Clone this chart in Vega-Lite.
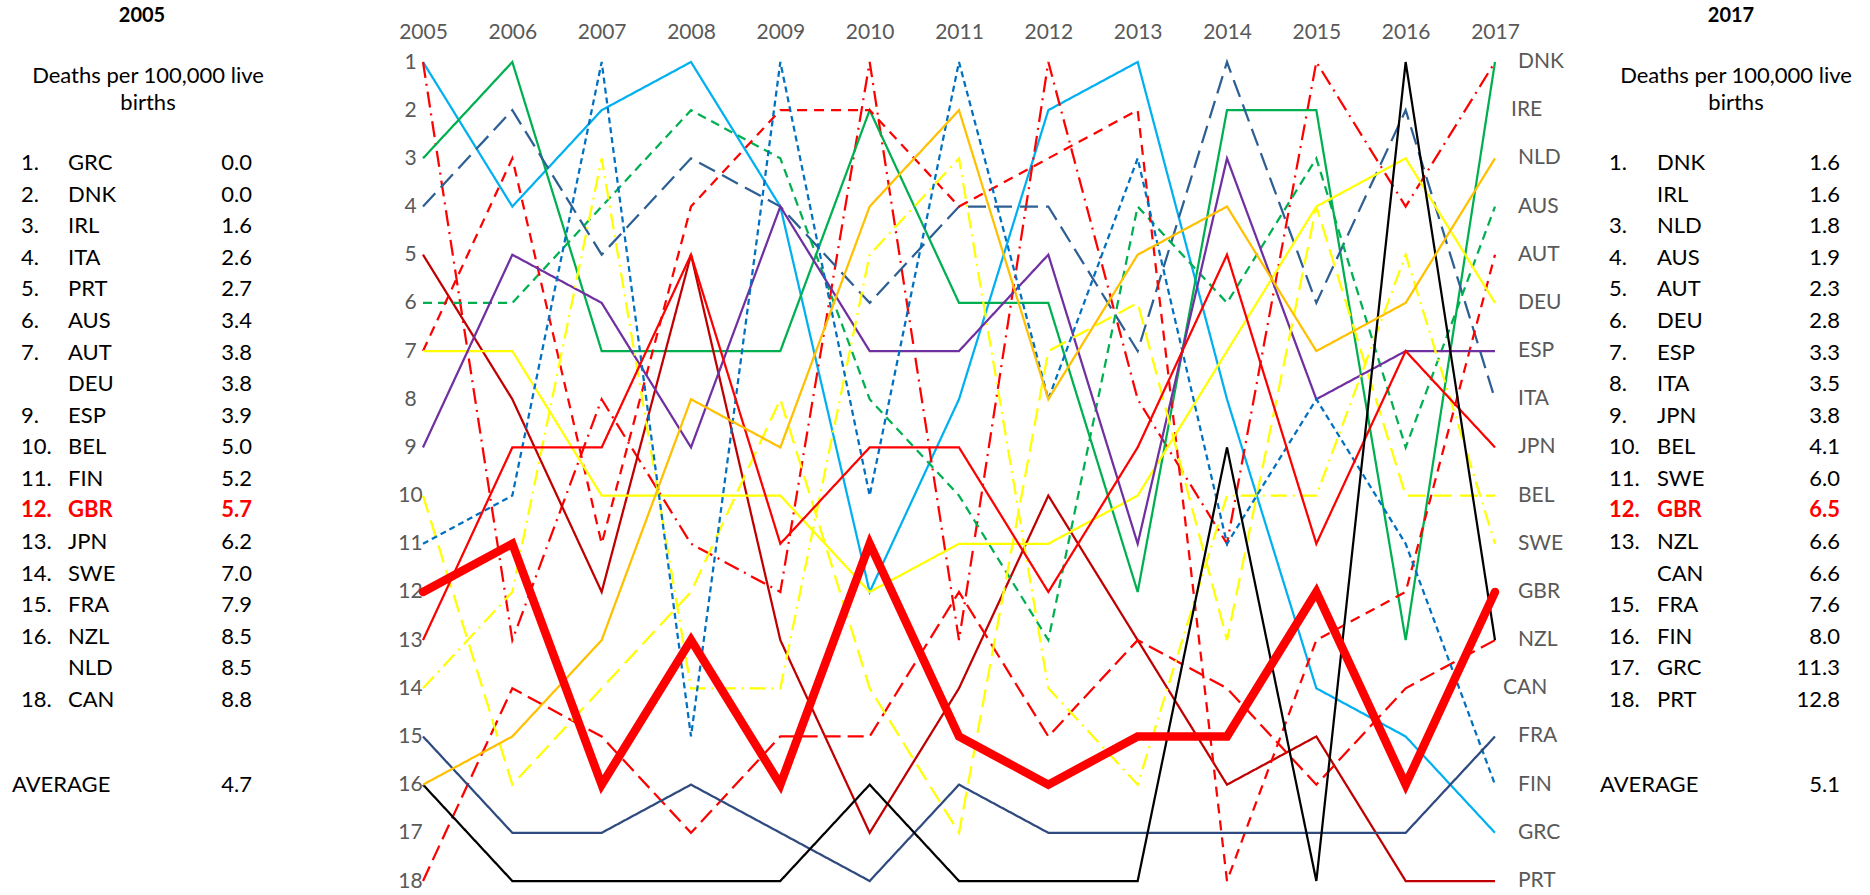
{
  "$schema": "https://vega.github.io/schema/vega-lite/v6.json",
  "width": 1072,
  "height": 819,
  "autosize": {"type": "none"},
  "padding": {"left": 423, "top": 62, "right": 375, "bottom": 14},
  "background": "white",
  "config": {"font": "Lato", "view": {"stroke": null}},
  "datasets": {
    "ranks": [
      {"country":"GBR","year":2005,"rank":12},{"country":"GBR","year":2006,"rank":11},{"country":"GBR","year":2007,"rank":16},{"country":"GBR","year":2008,"rank":13},{"country":"GBR","year":2009,"rank":16},{"country":"GBR","year":2010,"rank":11},{"country":"GBR","year":2011,"rank":15},{"country":"GBR","year":2012,"rank":16},{"country":"GBR","year":2013,"rank":15},{"country":"GBR","year":2014,"rank":15},{"country":"GBR","year":2015,"rank":12},{"country":"GBR","year":2016,"rank":16},{"country":"GBR","year":2017,"rank":12},
      {"country":"GRC","year":2005,"rank":1},{"country":"GRC","year":2006,"rank":4},{"country":"GRC","year":2007,"rank":2},{"country":"GRC","year":2008,"rank":1},{"country":"GRC","year":2009,"rank":4},{"country":"GRC","year":2010,"rank":12},{"country":"GRC","year":2011,"rank":8},{"country":"GRC","year":2012,"rank":2},{"country":"GRC","year":2013,"rank":1},{"country":"GRC","year":2014,"rank":8},{"country":"GRC","year":2015,"rank":14},{"country":"GRC","year":2016,"rank":15},{"country":"GRC","year":2017,"rank":17},
      {"country":"DNK","year":2005,"rank":1},{"country":"DNK","year":2006,"rank":13},{"country":"DNK","year":2007,"rank":8},{"country":"DNK","year":2008,"rank":11},{"country":"DNK","year":2009,"rank":12},{"country":"DNK","year":2010,"rank":1},{"country":"DNK","year":2011,"rank":13},{"country":"DNK","year":2012,"rank":1},{"country":"DNK","year":2013,"rank":8},{"country":"DNK","year":2014,"rank":11},{"country":"DNK","year":2015,"rank":1},{"country":"DNK","year":2016,"rank":4},{"country":"DNK","year":2017,"rank":1},
      {"country":"IRL","year":2005,"rank":3},{"country":"IRL","year":2006,"rank":1},{"country":"IRL","year":2007,"rank":7},{"country":"IRL","year":2008,"rank":7},{"country":"IRL","year":2009,"rank":7},{"country":"IRL","year":2010,"rank":2},{"country":"IRL","year":2011,"rank":6},{"country":"IRL","year":2012,"rank":6},{"country":"IRL","year":2013,"rank":12},{"country":"IRL","year":2014,"rank":2},{"country":"IRL","year":2015,"rank":2},{"country":"IRL","year":2016,"rank":13},{"country":"IRL","year":2017,"rank":1},
      {"country":"ITA","year":2005,"rank":4},{"country":"ITA","year":2006,"rank":2},{"country":"ITA","year":2007,"rank":5},{"country":"ITA","year":2008,"rank":3},{"country":"ITA","year":2009,"rank":4},{"country":"ITA","year":2010,"rank":6},{"country":"ITA","year":2011,"rank":4},{"country":"ITA","year":2012,"rank":4},{"country":"ITA","year":2013,"rank":7},{"country":"ITA","year":2014,"rank":1},{"country":"ITA","year":2015,"rank":6},{"country":"ITA","year":2016,"rank":2},{"country":"ITA","year":2017,"rank":8},
      {"country":"PRT","year":2005,"rank":5},{"country":"PRT","year":2006,"rank":8},{"country":"PRT","year":2007,"rank":12},{"country":"PRT","year":2008,"rank":5},{"country":"PRT","year":2009,"rank":13},{"country":"PRT","year":2010,"rank":17},{"country":"PRT","year":2011,"rank":14},{"country":"PRT","year":2012,"rank":10},{"country":"PRT","year":2013,"rank":13},{"country":"PRT","year":2014,"rank":16},{"country":"PRT","year":2015,"rank":15},{"country":"PRT","year":2016,"rank":18},{"country":"PRT","year":2017,"rank":18},
      {"country":"AUS","year":2005,"rank":6},{"country":"AUS","year":2006,"rank":6},{"country":"AUS","year":2007,"rank":4},{"country":"AUS","year":2008,"rank":2},{"country":"AUS","year":2009,"rank":3},{"country":"AUS","year":2010,"rank":8},{"country":"AUS","year":2011,"rank":10},{"country":"AUS","year":2012,"rank":13},{"country":"AUS","year":2013,"rank":4},{"country":"AUS","year":2014,"rank":6},{"country":"AUS","year":2015,"rank":3},{"country":"AUS","year":2016,"rank":9},{"country":"AUS","year":2017,"rank":4},
      {"country":"AUT","year":2005,"rank":7},{"country":"AUT","year":2006,"rank":3},{"country":"AUT","year":2007,"rank":11},{"country":"AUT","year":2008,"rank":4},{"country":"AUT","year":2009,"rank":2},{"country":"AUT","year":2010,"rank":2},{"country":"AUT","year":2011,"rank":4},{"country":"AUT","year":2012,"rank":3},{"country":"AUT","year":2013,"rank":2},{"country":"AUT","year":2014,"rank":18},{"country":"AUT","year":2015,"rank":13},{"country":"AUT","year":2016,"rank":12},{"country":"AUT","year":2017,"rank":5},
      {"country":"CAN","year":2005,"rank":18},{"country":"CAN","year":2006,"rank":14},{"country":"CAN","year":2007,"rank":15},{"country":"CAN","year":2008,"rank":17},{"country":"CAN","year":2009,"rank":15},{"country":"CAN","year":2010,"rank":15},{"country":"CAN","year":2011,"rank":12},{"country":"CAN","year":2012,"rank":15},{"country":"CAN","year":2013,"rank":13},{"country":"CAN","year":2014,"rank":14},{"country":"CAN","year":2015,"rank":16},{"country":"CAN","year":2016,"rank":14},{"country":"CAN","year":2017,"rank":13},
      {"country":"DEU","year":2005,"rank":7},{"country":"DEU","year":2006,"rank":7},{"country":"DEU","year":2007,"rank":10},{"country":"DEU","year":2008,"rank":10},{"country":"DEU","year":2009,"rank":10},{"country":"DEU","year":2010,"rank":12},{"country":"DEU","year":2011,"rank":11},{"country":"DEU","year":2012,"rank":11},{"country":"DEU","year":2013,"rank":10},{"country":"DEU","year":2014,"rank":7},{"country":"DEU","year":2015,"rank":4},{"country":"DEU","year":2016,"rank":3},{"country":"DEU","year":2017,"rank":6},
      {"country":"ESP","year":2005,"rank":9},{"country":"ESP","year":2006,"rank":5},{"country":"ESP","year":2007,"rank":6},{"country":"ESP","year":2008,"rank":9},{"country":"ESP","year":2009,"rank":4},{"country":"ESP","year":2010,"rank":7},{"country":"ESP","year":2011,"rank":7},{"country":"ESP","year":2012,"rank":5},{"country":"ESP","year":2013,"rank":11},{"country":"ESP","year":2014,"rank":3},{"country":"ESP","year":2015,"rank":8},{"country":"ESP","year":2016,"rank":7},{"country":"ESP","year":2017,"rank":7},
      {"country":"BEL","year":2005,"rank":10},{"country":"BEL","year":2006,"rank":16},{"country":"BEL","year":2007,"rank":14},{"country":"BEL","year":2008,"rank":12},{"country":"BEL","year":2009,"rank":8},{"country":"BEL","year":2010,"rank":14},{"country":"BEL","year":2011,"rank":17},{"country":"BEL","year":2012,"rank":7},{"country":"BEL","year":2013,"rank":6},{"country":"BEL","year":2014,"rank":13},{"country":"BEL","year":2015,"rank":4},{"country":"BEL","year":2016,"rank":10},{"country":"BEL","year":2017,"rank":10},
      {"country":"SWE","year":2005,"rank":14},{"country":"SWE","year":2006,"rank":12},{"country":"SWE","year":2007,"rank":3},{"country":"SWE","year":2008,"rank":14},{"country":"SWE","year":2009,"rank":14},{"country":"SWE","year":2010,"rank":5},{"country":"SWE","year":2011,"rank":3},{"country":"SWE","year":2012,"rank":14},{"country":"SWE","year":2013,"rank":16},{"country":"SWE","year":2014,"rank":10},{"country":"SWE","year":2015,"rank":10},{"country":"SWE","year":2016,"rank":5},{"country":"SWE","year":2017,"rank":11},
      {"country":"FIN","year":2005,"rank":11},{"country":"FIN","year":2006,"rank":10},{"country":"FIN","year":2007,"rank":1},{"country":"FIN","year":2008,"rank":15},{"country":"FIN","year":2009,"rank":1},{"country":"FIN","year":2010,"rank":10},{"country":"FIN","year":2011,"rank":1},{"country":"FIN","year":2012,"rank":8},{"country":"FIN","year":2013,"rank":3},{"country":"FIN","year":2014,"rank":11},{"country":"FIN","year":2015,"rank":8},{"country":"FIN","year":2016,"rank":11},{"country":"FIN","year":2017,"rank":16},
      {"country":"JPN","year":2005,"rank":13},{"country":"JPN","year":2006,"rank":9},{"country":"JPN","year":2007,"rank":9},{"country":"JPN","year":2008,"rank":5},{"country":"JPN","year":2009,"rank":11},{"country":"JPN","year":2010,"rank":9},{"country":"JPN","year":2011,"rank":9},{"country":"JPN","year":2012,"rank":12},{"country":"JPN","year":2013,"rank":9},{"country":"JPN","year":2014,"rank":5},{"country":"JPN","year":2015,"rank":11},{"country":"JPN","year":2016,"rank":7},{"country":"JPN","year":2017,"rank":9},
      {"country":"FRA","year":2005,"rank":15},{"country":"FRA","year":2006,"rank":17},{"country":"FRA","year":2007,"rank":17},{"country":"FRA","year":2008,"rank":16},{"country":"FRA","year":2009,"rank":17},{"country":"FRA","year":2010,"rank":18},{"country":"FRA","year":2011,"rank":16},{"country":"FRA","year":2012,"rank":17},{"country":"FRA","year":2013,"rank":17},{"country":"FRA","year":2014,"rank":17},{"country":"FRA","year":2015,"rank":17},{"country":"FRA","year":2016,"rank":17},{"country":"FRA","year":2017,"rank":15},
      {"country":"NZL","year":2005,"rank":16},{"country":"NZL","year":2006,"rank":18},{"country":"NZL","year":2007,"rank":18},{"country":"NZL","year":2008,"rank":18},{"country":"NZL","year":2009,"rank":18},{"country":"NZL","year":2010,"rank":16},{"country":"NZL","year":2011,"rank":18},{"country":"NZL","year":2012,"rank":18},{"country":"NZL","year":2013,"rank":18},{"country":"NZL","year":2014,"rank":9},{"country":"NZL","year":2015,"rank":18},{"country":"NZL","year":2016,"rank":1},{"country":"NZL","year":2017,"rank":13},
      {"country":"NLD","year":2005,"rank":16},{"country":"NLD","year":2006,"rank":15},{"country":"NLD","year":2007,"rank":13},{"country":"NLD","year":2008,"rank":8},{"country":"NLD","year":2009,"rank":9},{"country":"NLD","year":2010,"rank":4},{"country":"NLD","year":2011,"rank":2},{"country":"NLD","year":2012,"rank":8},{"country":"NLD","year":2013,"rank":5},{"country":"NLD","year":2014,"rank":4},{"country":"NLD","year":2015,"rank":7},{"country":"NLD","year":2016,"rank":6},{"country":"NLD","year":2017,"rank":3}
    ],
    "endlabels": [
      {"label":"DNK","year":2017,"rank":1},{"label":"IRE","year":2017,"rank":2},{"label":"NLD","year":2017,"rank":3},{"label":"AUS","year":2017,"rank":4},{"label":"AUT","year":2017,"rank":5},{"label":"DEU","year":2017,"rank":6},{"label":"ESP","year":2017,"rank":7},{"label":"ITA","year":2017,"rank":8},{"label":"JPN","year":2017,"rank":9},{"label":"BEL","year":2017,"rank":10},{"label":"SWE","year":2017,"rank":11},{"label":"GBR","year":2017,"rank":12},{"label":"NZL","year":2017,"rank":13},{"label":"CAN","year":2017,"rank":14},{"label":"FRA","year":2017,"rank":15},{"label":"FIN","year":2017,"rank":16},{"label":"GRC","year":2017,"rank":17},{"label":"PRT","year":2017,"rank":18}
    ],
    "table": [
      {"year":2005,"row":1,"num":"1.","code":"GRC","rate":"0.0"},
      {"year":2005,"row":2,"num":"2.","code":"DNK","rate":"0.0"},
      {"year":2005,"row":3,"num":"3.","code":"IRL","rate":"1.6"},
      {"year":2005,"row":4,"num":"4.","code":"ITA","rate":"2.6"},
      {"year":2005,"row":5,"num":"5.","code":"PRT","rate":"2.7"},
      {"year":2005,"row":6,"num":"6.","code":"AUS","rate":"3.4"},
      {"year":2005,"row":7,"num":"7.","code":"AUT","rate":"3.8"},
      {"year":2005,"row":8,"num":"","code":"DEU","rate":"3.8"},
      {"year":2005,"row":9,"num":"9.","code":"ESP","rate":"3.9"},
      {"year":2005,"row":10,"num":"10.","code":"BEL","rate":"5.0"},
      {"year":2005,"row":11,"num":"11.","code":"FIN","rate":"5.2"},
      {"year":2005,"row":12,"num":"12.","code":"GBR","rate":"5.7"},
      {"year":2005,"row":13,"num":"13.","code":"JPN","rate":"6.2"},
      {"year":2005,"row":14,"num":"14.","code":"SWE","rate":"7.0"},
      {"year":2005,"row":15,"num":"15.","code":"FRA","rate":"7.9"},
      {"year":2005,"row":16,"num":"16.","code":"NZL","rate":"8.5"},
      {"year":2005,"row":17,"num":"","code":"NLD","rate":"8.5"},
      {"year":2005,"row":18,"num":"18.","code":"CAN","rate":"8.8"},
      {"year":2017,"row":1,"num":"1.","code":"DNK","rate":"1.6"},
      {"year":2017,"row":2,"num":"","code":"IRL","rate":"1.6"},
      {"year":2017,"row":3,"num":"3.","code":"NLD","rate":"1.8"},
      {"year":2017,"row":4,"num":"4.","code":"AUS","rate":"1.9"},
      {"year":2017,"row":5,"num":"5.","code":"AUT","rate":"2.3"},
      {"year":2017,"row":6,"num":"6.","code":"DEU","rate":"2.8"},
      {"year":2017,"row":7,"num":"7.","code":"ESP","rate":"3.3"},
      {"year":2017,"row":8,"num":"8.","code":"ITA","rate":"3.5"},
      {"year":2017,"row":9,"num":"9.","code":"JPN","rate":"3.8"},
      {"year":2017,"row":10,"num":"10.","code":"BEL","rate":"4.1"},
      {"year":2017,"row":11,"num":"11.","code":"SWE","rate":"6.0"},
      {"year":2017,"row":12,"num":"12.","code":"GBR","rate":"6.5"},
      {"year":2017,"row":13,"num":"13.","code":"NZL","rate":"6.6"},
      {"year":2017,"row":14,"num":"","code":"CAN","rate":"6.6"},
      {"year":2017,"row":15,"num":"15.","code":"FRA","rate":"7.6"},
      {"year":2017,"row":16,"num":"16.","code":"FIN","rate":"8.0"},
      {"year":2017,"row":17,"num":"17.","code":"GRC","rate":"11.3"},
      {"year":2017,"row":18,"num":"18.","code":"PRT","rate":"12.8"}
    ],
    "avg": [
      {"year":2005,"label":"AVERAGE","rate":"4.7"},
      {"year":2017,"label":"AVERAGE","rate":"5.1"}
    ],
    "heads": [
      {"year":2005,"head":"2005","sub":["Deaths per 100,000 live","births"]},
      {"year":2017,"head":"2017","sub":["Deaths per 100,000 live","births"]}
    ]
  },
  "resolve": {"scale": {"x": "independent", "y": "independent"}},
  "layer": [
    {
      "encoding": {
        "x": {"field": "year", "type": "quantitative",
          "scale": {"domain": [2005, 2017], "nice": false, "zero": false},
          "axis": {"orient": "top", "values": [2005,2006,2007,2008,2009,2010,2011,2012,2013,2014,2015,2016,2017], "format": "d", "title": null, "ticks": false, "tickSize": 0, "domain": false, "grid": false, "labelFontSize": 21, "labelColor": "#595959", "labelPadding": 30, "labelBaseline": "middle", "labelFlush": false, "labelOverlap": false}},
        "y": {"field": "rank", "type": "quantitative",
          "scale": {"domain": [1, 18], "reverse": true, "nice": false, "zero": false},
          "axis": {"values": [1,2,3,4,5,6,7,8,9,10,11,12,13,14,15,16,17,18], "title": null, "ticks": false, "tickSize": 0, "domain": false, "grid": false, "labelAlign": "center", "labelBaseline": "middle", "labelPadding": 13, "labelFontSize": 21, "labelColor": "#595959", "labelFlush": false, "labelOverlap": false}}
      },
      "layer": [
        {
          "data": {"name": "ranks"},
          "transform": [{"filter": "datum.country != 'GBR'"}],
          "mark": {"type": "line", "strokeWidth": 2.25},
          "encoding": {
            "color": {"field": "country", "type": "nominal", "legend": null,
              "scale": {"domain": ["GRC","DNK","IRL","ITA","PRT","AUS","AUT","DEU","ESP","BEL","FIN","JPN","SWE","FRA","NZL","NLD","CAN"],
                        "range": ["#00B0F0","#FF0000","#00B050","#2E5F93","#C00000","#00B050","#FF0000","#FFFF00","#7030A0","#FFFF00","#0070C0","#FF0000","#FFFF00","#2F4A7F","#000000","#FFC000","#FF0000"]}},
            "strokeDash": {"field": "country", "type": "nominal", "legend": null,
              "scale": {"domain": ["GRC","DNK","IRL","ITA","PRT","AUS","AUT","DEU","ESP","BEL","FIN","JPN","SWE","FRA","NZL","NLD","CAN"],
                        "range": [[1,0],[16,6,2,6],[1,0],[18,8],[1,0],[9,6],[10,7],[1,0],[1,0],[18,8],[6,4],[1,0],[16,6,2,6],[1,0],[1,0],[1,0],[16,7]]}}
          }
        },
        {
          "data": {"name": "ranks"},
          "transform": [{"filter": "datum.country == 'GBR'"}],
          "mark": {"type": "line", "strokeWidth": 8.5, "color": "#FF0000", "strokeCap": "round"}
        },
        {
          "data": {"name": "endlabels"},
          "transform": [{"filter": "datum.label != 'IRE' && datum.label != 'CAN'"}],
          "mark": {"type": "text", "align": "left", "baseline": "middle", "dx": 23, "fontSize": 21, "color": "#595959"},
          "encoding": {"text": {"field": "label"}}
        },
        {
          "data": {"name": "endlabels"},
          "transform": [{"filter": "datum.label == 'IRE'"}],
          "mark": {"type": "text", "align": "left", "baseline": "middle", "dx": 16, "fontSize": 21, "color": "#595959"},
          "encoding": {"text": {"field": "label"}}
        },
        {
          "data": {"name": "endlabels"},
          "transform": [{"filter": "datum.label == 'CAN'"}],
          "mark": {"type": "text", "align": "left", "baseline": "middle", "dx": 8, "fontSize": 21, "color": "#595959"},
          "encoding": {"text": {"field": "label"}}
        }
      ]
    },
    {
      "data": {"name": "table"},
      "transform": [{"filter": "datum.row != 12"}],
      "mark": {"type": "text", "align": "left", "baseline": "middle", "fontSize": 22, "color": "#000000"},
      "encoding": {
        "x": {"field": "year", "type": "quantitative", "scale": {"domain": [2005, 2017], "range": [-402, 1186]}, "axis": null},
        "y": {"field": "row", "type": "quantitative", "scale": {"domain": [1, 18], "range": [101, 638]}, "axis": null},
        "text": {"field": "num"}
      }
    },
    {
      "data": {"name": "table"},
      "transform": [{"filter": "datum.row != 12"}],
      "mark": {"type": "text", "align": "left", "baseline": "middle", "fontSize": 22, "color": "#000000"},
      "encoding": {
        "x": {"field": "year", "type": "quantitative", "scale": {"domain": [2005, 2017], "range": [-355, 1234]}, "axis": null},
        "y": {"field": "row", "type": "quantitative", "scale": {"domain": [1, 18], "range": [101, 638]}, "axis": null},
        "text": {"field": "code"}
      }
    },
    {
      "data": {"name": "table"},
      "transform": [{"filter": "datum.row != 12"}],
      "mark": {"type": "text", "align": "right", "baseline": "middle", "fontSize": 22, "color": "#000000"},
      "encoding": {
        "x": {"field": "year", "type": "quantitative", "scale": {"domain": [2005, 2017], "range": [-171, 1417]}, "axis": null},
        "y": {"field": "row", "type": "quantitative", "scale": {"domain": [1, 18], "range": [101, 638]}, "axis": null},
        "text": {"field": "rate"}
      }
    },
    {
      "data": {"name": "table"},
      "transform": [{"filter": "datum.row == 12"}],
      "mark": {"type": "text", "align": "left", "baseline": "middle", "fontSize": 22, "fontWeight": "bold", "color": "#FF0000"},
      "encoding": {
        "x": {"field": "year", "type": "quantitative", "scale": {"domain": [2005, 2017], "range": [-402, 1186]}, "axis": null},
        "y": {"field": "row", "type": "quantitative", "scale": {"domain": [1, 18], "range": [101, 638]}, "axis": null},
        "text": {"field": "num"}
      }
    },
    {
      "data": {"name": "table"},
      "transform": [{"filter": "datum.row == 12"}],
      "mark": {"type": "text", "align": "left", "baseline": "middle", "fontSize": 22, "fontWeight": "bold", "color": "#FF0000"},
      "encoding": {
        "x": {"field": "year", "type": "quantitative", "scale": {"domain": [2005, 2017], "range": [-355, 1234]}, "axis": null},
        "y": {"field": "row", "type": "quantitative", "scale": {"domain": [1, 18], "range": [101, 638]}, "axis": null},
        "text": {"field": "code"}
      }
    },
    {
      "data": {"name": "table"},
      "transform": [{"filter": "datum.row == 12"}],
      "mark": {"type": "text", "align": "right", "baseline": "middle", "fontSize": 22, "fontWeight": "bold", "color": "#FF0000"},
      "encoding": {
        "x": {"field": "year", "type": "quantitative", "scale": {"domain": [2005, 2017], "range": [-171, 1417]}, "axis": null},
        "y": {"field": "row", "type": "quantitative", "scale": {"domain": [1, 18], "range": [101, 638]}, "axis": null},
        "text": {"field": "rate"}
      }
    },
    {
      "data": {"name": "avg"},
      "mark": {"type": "text", "align": "left", "baseline": "middle", "fontSize": 22, "color": "#000000"},
      "encoding": {
        "x": {"field": "year", "type": "quantitative", "scale": {"domain": [2005, 2017], "range": [-411, 1177]}, "axis": null},
        "y": {"datum": 20.7, "type": "quantitative", "scale": {"domain": [1, 18], "range": [101, 638]}, "axis": null},
        "text": {"field": "label"}
      }
    },
    {
      "data": {"name": "avg"},
      "mark": {"type": "text", "align": "right", "baseline": "middle", "fontSize": 22, "color": "#000000"},
      "encoding": {
        "x": {"field": "year", "type": "quantitative", "scale": {"domain": [2005, 2017], "range": [-171, 1417]}, "axis": null},
        "y": {"datum": 20.7, "type": "quantitative", "scale": {"domain": [1, 18], "range": [101, 638]}, "axis": null},
        "text": {"field": "rate"}
      }
    },
    {
      "data": {"name": "heads"},
      "mark": {"type": "text", "align": "center", "baseline": "middle", "fontSize": 20, "fontWeight": "bold", "color": "#000000"},
      "encoding": {
        "x": {"field": "year", "type": "quantitative", "scale": {"domain": [2005, 2017], "range": [-281, 1308]}, "axis": null},
        "y": {"datum": -3.65, "type": "quantitative", "scale": {"domain": [1, 18], "range": [101, 638]}, "axis": null},
        "text": {"field": "head"}
      }
    },
    {
      "data": {"name": "heads"},
      "mark": {"type": "text", "align": "center", "baseline": "middle", "fontSize": 22, "lineHeight": 27, "color": "#000000"},
      "encoding": {
        "x": {"field": "year", "type": "quantitative", "scale": {"domain": [2005, 2017], "range": [-275, 1313]}, "axis": null},
        "y": {"datum": -1.754, "type": "quantitative", "scale": {"domain": [1, 18], "range": [101, 638]}, "axis": null},
        "text": {"field": "sub"}
      }
    }
  ]
}
